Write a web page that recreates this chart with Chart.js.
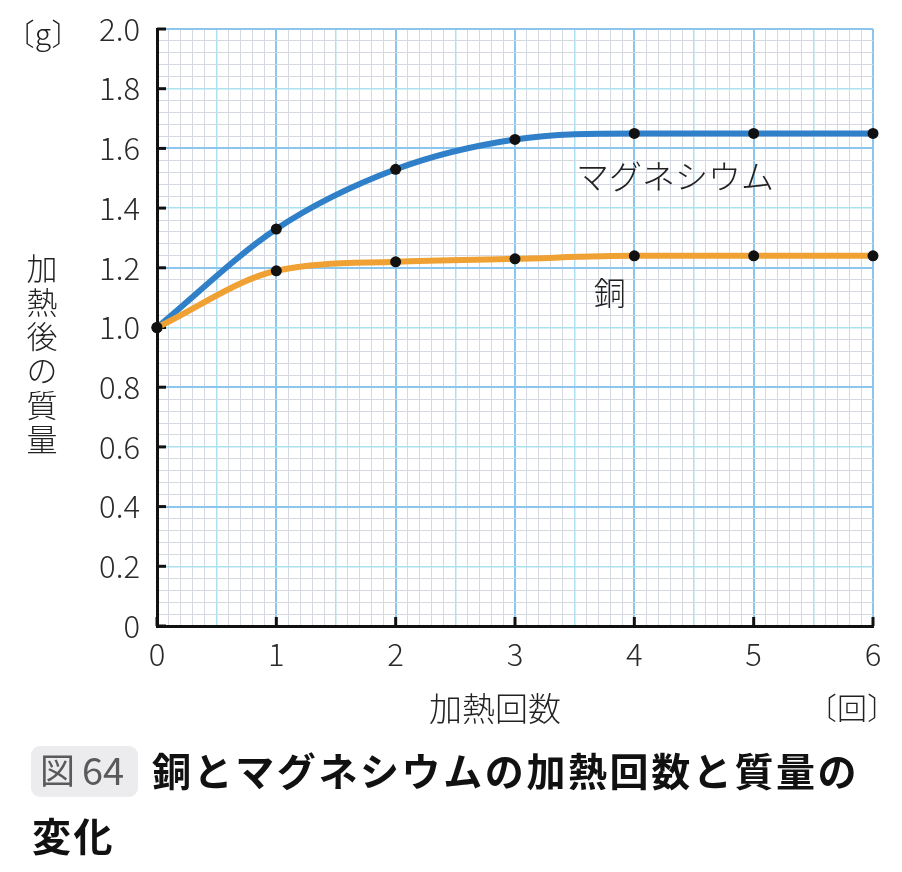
<!DOCTYPE html>
<html>
<head>
<meta charset="utf-8">
<title>銅とマグネシウムの加熱回数と質量の変化</title>
<style>
  body { margin: 0; background: #fff; }
  canvas { display: block; }
</style>
</head>
<body>
<canvas id="chart" width="902" height="872"></canvas>

<script src="https://cdn.jsdelivr.net/npm/chart.js@4.4.0/dist/chart.umd.min.js"></script>
<script>
// data
const heatCounts = [0, 1, 2, 3, 4, 5, 6];
const magnesium = [1.0, 1.33, 1.53, 1.63, 1.65, 1.65, 1.65];
const copper = [1.0, 1.19, 1.22, 1.23, 1.24, 1.24, 1.24];
const yLabelTicks = [0, 0.2, 0.4, 0.6, 0.8, 1.0, 1.2, 1.4, 1.6, 1.8, 2.0];
const xLabelTicks = [0, 1, 2, 3, 4, 5, 6];

const FONT = '"Noto Sans CJK JP", "Noto Sans", sans-serif';
const BLUE_GRID = '#8cc6ec';
const CYAN_GRID = '#ace2ef';
const GRAY_GRID = '#d4d8e0';

// graph paper: 1 cm = 1 time (x) = 0.4 g (y), 1 mm subdivisions
function gridColor(idx) {
    if (idx % 10 === 0) return BLUE_GRID;
    if (idx % 5 === 0) return CYAN_GRID;
    return GRAY_GRID;
}
function gridWidth(idx) {
    if (idx % 10 === 0) return 2;
    if (idx % 5 === 0) return 1.5;
    return 1;
}

const decorations = {
    id: 'decorations',
    beforeDatasetsDraw(chart) {
        const ctx = chart.ctx;
        const x = chart.scales.x, y = chart.scales.y;
        ctx.save();
        ctx.strokeStyle = '#111';
        ctx.lineWidth = 3;
        // inner tick marks
        yLabelTicks.forEach(v => {
            const py = y.getPixelForValue(v);
            ctx.beginPath();
            ctx.moveTo(x.left, py);
            ctx.lineTo(x.left + 9, py);
            ctx.stroke();
        });
        xLabelTicks.forEach(v => {
            const px = x.getPixelForValue(v);
            ctx.beginPath();
            ctx.moveTo(px, y.bottom);
            ctx.lineTo(px, y.bottom - 9);
            ctx.stroke();
        });
        ctx.restore();
    },
    afterDraw(chart) {
        const ctx = chart.ctx;
        const x = chart.scales.x, y = chart.scales.y;
        ctx.save();
        ctx.fillStyle = '#222';
        ctx.textAlign = 'center';
        ctx.textBaseline = 'middle';

        // series labels
        ctx.font = '300 33px ' + FONT;
        ctx.fillText('マグネシウム', x.getPixelForValue(4.34), y.getPixelForValue(1.505));
        ctx.font = '300 32px ' + FONT;
        ctx.fillText('銅', x.getPixelForValue(3.795), y.getPixelForValue(1.115));

        // units
        ctx.font = '300 30px ' + FONT;
        ctx.fillText('〔g〕', 43, 34);
        ctx.fillText('〔回〕', 852, 708);

        // axis titles
        ctx.font = '300 33px ' + FONT;
        ctx.fillText('加熱回数', 495, 708);
        const yTitle = '加熱後の質量';
        ctx.font = '300 31px ' + FONT;
        for (let i = 0; i < yTitle.length; i++) {
            ctx.fillText(yTitle[i], 42, 268 + i * 34.2);
        }

        // caption
        ctx.fillStyle = '#ececef';
        ctx.beginPath();
        ctx.roundRect(31, 746, 107, 51, 9);
        ctx.fill();
        ctx.fillStyle = '#5a5a5a';
        ctx.textAlign = 'left';
        ctx.font = '35px ' + FONT;
        ctx.fillText('図', 40, 771);
        ctx.font = '38px ' + FONT;
        ctx.fillText('64', 82, 771);

        ctx.fillStyle = '#111';
        ctx.font = 'bold 39px ' + FONT;
        const line1 = '銅とマグネシウムの加熱回数と質量の';
        const step = 41.6;
        for (let i = 0; i < line1.length; i++) {
            ctx.fillText(line1[i], 152 + i * step, 771);
        }
        const line2 = '変化';
        for (let i = 0; i < line2.length; i++) {
            ctx.fillText(line2[i], 32 + i * step, 836);
        }
        ctx.restore();
    }
};

const context = document.getElementById('chart').getContext('2d');
const chart = new Chart(context, {
    type: 'line',
    data: {
        labels: heatCounts,
        datasets: [
            {
                label: '銅',
                data: heatCounts.map((h, i) => ({x: h, y: copper[i]})),
                borderColor: '#efa133',
                borderWidth: 6,
                pointBackgroundColor: '#111',
                pointBorderColor: '#111',
                pointRadius: 5.5,
                pointBorderWidth: 0,
                cubicInterpolationMode: 'monotone',
                order: 0
            },
            {
                label: 'マグネシウム',
                data: heatCounts.map((h, i) => ({x: h, y: magnesium[i]})),
                borderColor: '#2f80c8',
                borderWidth: 6,
                pointBackgroundColor: '#111',
                pointBorderColor: '#111',
                pointRadius: 5.5,
                pointBorderWidth: 0,
                cubicInterpolationMode: 'monotone',
                order: 1
            }
        ]
    },
    options: {
        responsive: false,
        animation: false,
        devicePixelRatio: 1,
        clip: false,
        layout: { padding: { left: 0, top: 29, right: 29, bottom: 186 } },
        plugins: {
            legend: { display: false },
            tooltip: { enabled: false }
        },
        scales: {
            x: {
                type: 'linear',
                min: 0,
                max: 6,
                afterFit(scale) {
                    scale.height = 60;
                    scale.paddingLeft = 0;
                    scale.paddingRight = 0;
                },
                border: { color: '#111', width: 3, z: 1 },
                grid: {
                    drawTicks: false,
                    color: c => gridColor(Math.round(c.tick.value / 0.1)),
                    lineWidth: c => gridWidth(Math.round(c.tick.value / 0.1))
                },
                ticks: {
                    stepSize: 0.1,
                    autoSkip: false,
                    maxTicksLimit: 1000,
                    maxRotation: 0,
                    padding: 10,
                    color: '#2a2a2a',
                    font: { family: FONT, size: 31, weight: 300 },
                    callback: v => {
                        const idx = Math.round(v / 0.1);
                        return idx % 10 === 0 ? String(idx / 10) : '';
                    }
                }
            },
            y: {
                min: 0,
                max: 2,
                afterFit(scale) {
                    scale.width = 157;
                    scale.paddingTop = 0;
                    scale.paddingBottom = 0;
                },
                border: { color: '#111', width: 3, z: 1 },
                grid: {
                    drawTicks: false,
                    color: c => gridColor(Math.round(c.tick.value / 0.04)),
                    lineWidth: c => gridWidth(Math.round(c.tick.value / 0.04))
                },
                ticks: {
                    stepSize: 0.04,
                    autoSkip: false,
                    maxTicksLimit: 1000,
                    padding: 17,
                    color: '#2a2a2a',
                    font: { family: FONT, size: 31, weight: 300 },
                    callback: v => {
                        const idx = Math.round(v / 0.04);
                        if (idx % 5 !== 0) return '';
                        return idx === 0 ? '0' : (idx * 0.04).toFixed(1);
                    }
                }
            }
        }
    },
    plugins: [decorations]
});
</script>
</body>
</html>
